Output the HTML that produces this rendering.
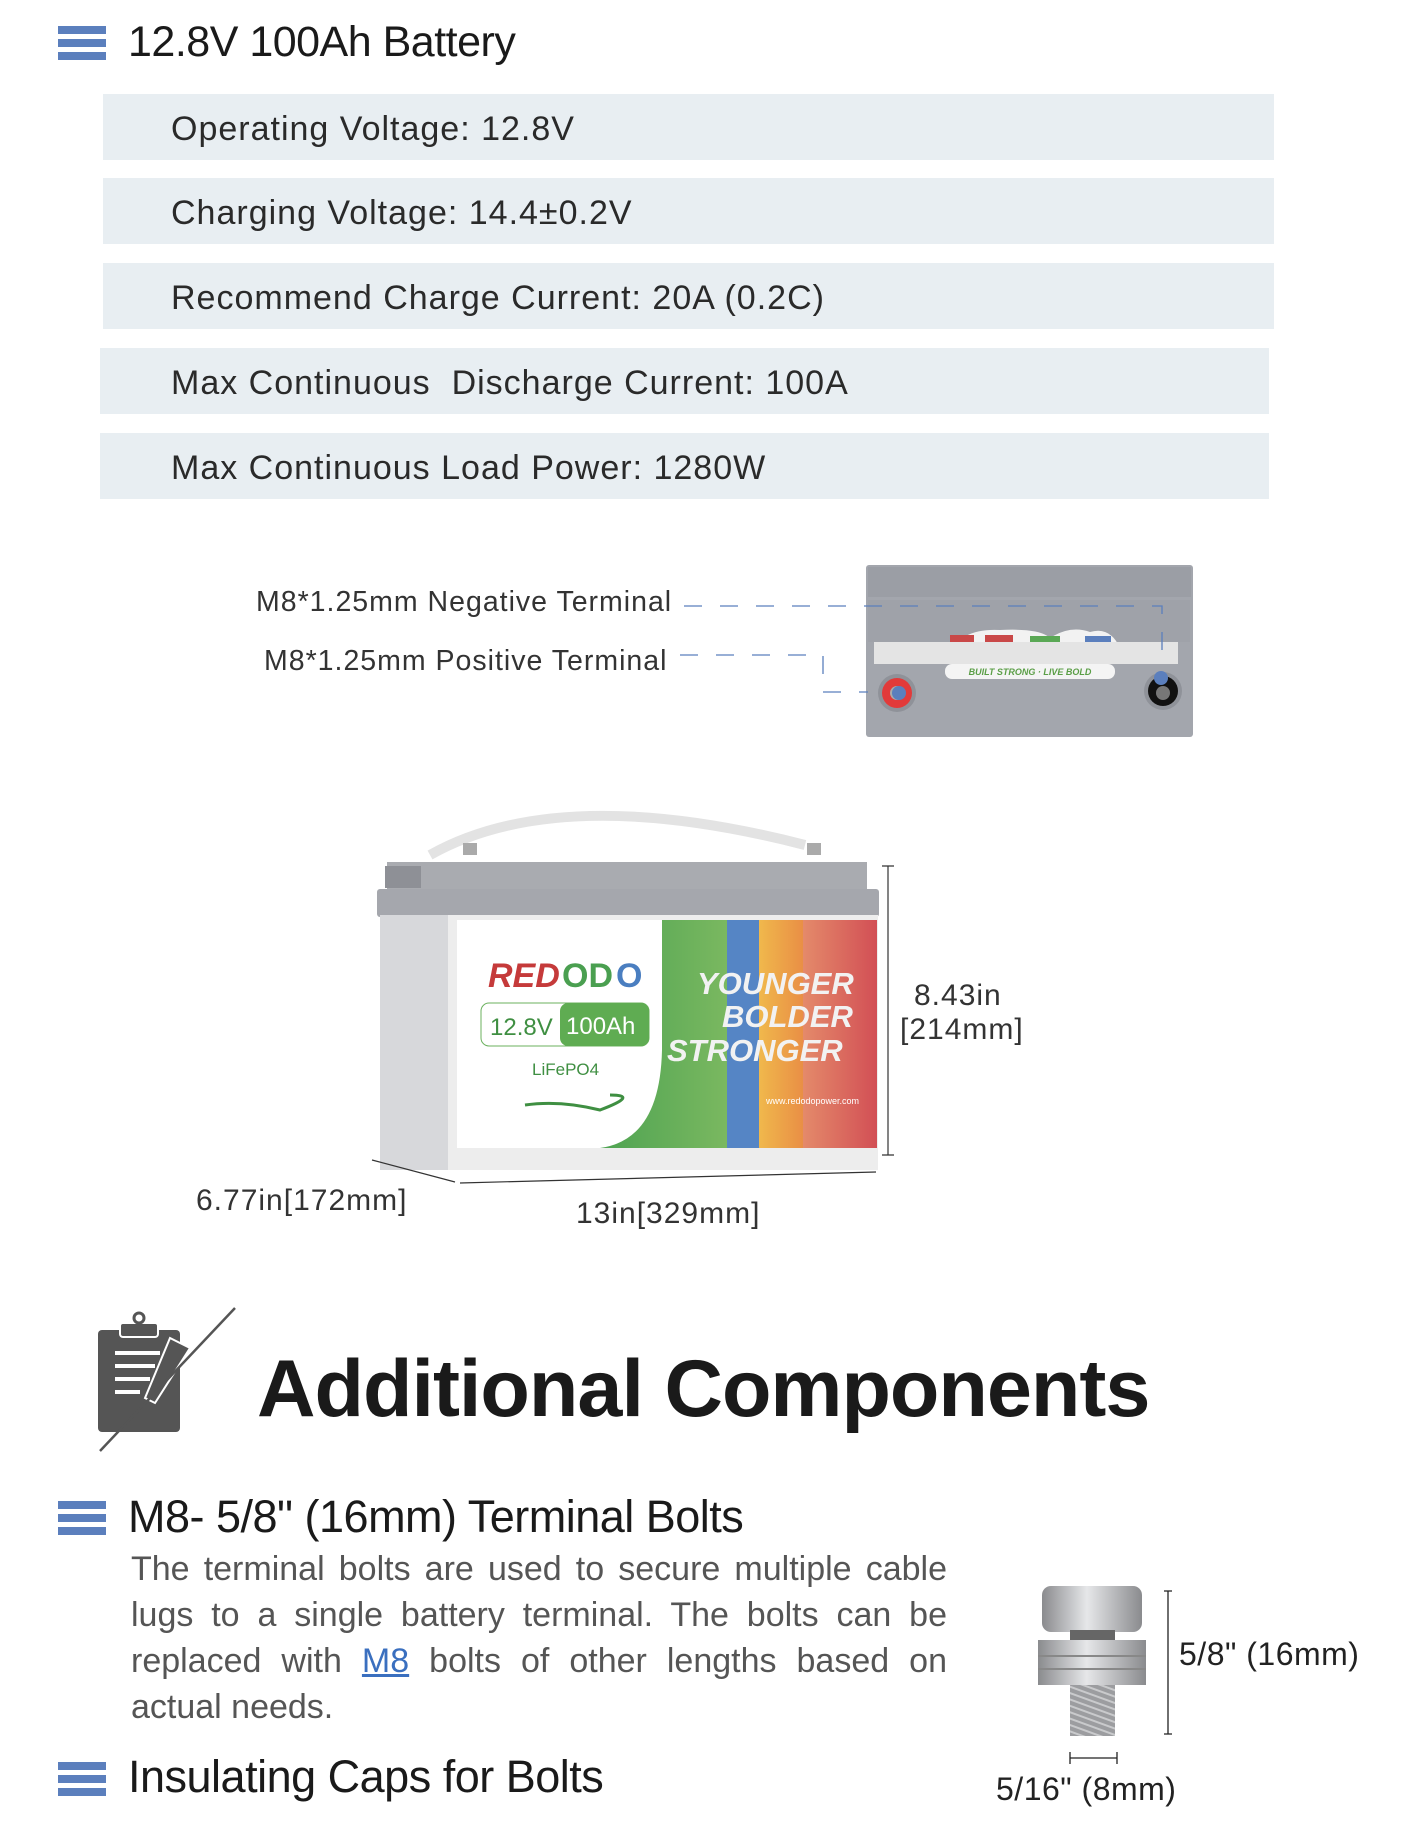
<!DOCTYPE html>
<html><head><meta charset="utf-8"><style>
body{margin:0;width:1420px;height:1838px;background:#fff;position:relative;overflow:hidden;font-family:"Liberation Sans","DejaVu Sans",sans-serif;color:#222}
.a{position:absolute}
.ic{position:absolute;width:48px}
.ic i{display:block;height:8px;background:#5b7fbd;margin-bottom:5px}
.h{position:absolute;font-size:43px;color:#1a1a1a;white-space:nowrap;letter-spacing:-0.5px}
.row{position:absolute;background:#e8eef2;height:66px}
.row span{position:absolute;left:68px;top:16px;font-size:34px;color:#2a2a2a;letter-spacing:1px;white-space:nowrap}
.lbl{position:absolute;font-size:28.5px;color:#333;letter-spacing:1px;white-space:nowrap}
.p{position:absolute;left:131px;top:1546px;width:816px;font-size:34px;line-height:46px;color:#555;text-align:justify;text-align-last:left}
</style></head><body>
<div class="ic" style="left:58px;top:26px"><i></i><i></i><i></i></div>
<div class="h" style="left:128px;top:18px">12.8V 100Ah Battery</div>
<div class="row" style="left:103px;top:94px;width:1171px"><span>Operating Voltage: 12.8V</span></div>
<div class="row" style="left:103px;top:178px;width:1171px"><span>Charging Voltage: 14.4±0.2V</span></div>
<div class="row" style="left:103px;top:263px;width:1171px"><span>Recommend Charge Current: 20A (0.2C)</span></div>
<div class="row" style="left:100px;top:348px;width:1169px"><span style="left:71px">Max Continuous&nbsp; Discharge Current: 100A</span></div>
<div class="row" style="left:100px;top:433px;width:1169px"><span style="left:71px">Max Continuous Load Power: 1280W</span></div>

<div class="lbl" style="left:256px;top:586px">M8*1.25mm Negative Terminal</div>
<div class="lbl" style="left:264px;top:645px">M8*1.25mm Positive Terminal</div>

<svg class="a" style="left:0;top:0" width="1420" height="1838">
 <defs>
  <linearGradient id="gg" x1="0" x2="1"><stop offset="0" stop-color="#4ea352"/><stop offset="1" stop-color="#7ab860"/></linearGradient>
  <linearGradient id="rg" x1="0" x2="1"><stop offset="0" stop-color="#e48a6a"/><stop offset="1" stop-color="#d24f55"/></linearGradient>
  <linearGradient id="og" x1="0" x2="1"><stop offset="0" stop-color="#f0b84c"/><stop offset="1" stop-color="#e98f45"/></linearGradient>
  <linearGradient id="bolt" x1="0" x2="1"><stop offset="0" stop-color="#8a8b8e"/><stop offset=".45" stop-color="#e6e7e9"/><stop offset="1" stop-color="#8a8b8e"/></linearGradient>
  <pattern id="thr" width="8" height="6" patternUnits="userSpaceOnUse" patternTransform="rotate(20)"><rect width="8" height="6" fill="#9c9da0"/><rect width="8" height="2" fill="#c9cacc"/></pattern>
 </defs>
 <!-- top view battery -->
 <rect x="866" y="565" width="327" height="172" rx="3" fill="#a3a6ad"/>
 <rect x="868" y="567" width="323" height="30" fill="#9b9ea5"/>
 <path d="M868 600 L1190 600 L1190 642 L868 642Z" fill="#9fa2a9"/>
 <path d="M950 650 Q965 628 1000 630 Q1040 628 1050 638 Q1070 625 1090 632 Q1110 626 1120 648Z" fill="#f2f2f2"/>
 <rect x="950" y="635" width="24" height="10" fill="#c94848"/><rect x="985" y="635" width="28" height="10" fill="#c94848"/>
 <rect x="1030" y="636" width="30" height="9" fill="#5aa855"/><rect x="1085" y="636" width="26" height="9" fill="#5b7fbd"/>
 <rect x="874" y="642" width="304" height="22" fill="#e4e4e4"/>
 <rect x="945" y="664" width="170" height="15" rx="7" fill="#f4f4f4"/>
 <text x="1030" y="675" font-size="9" fill="#5a9e46" text-anchor="middle" font-style="italic" font-weight="bold">BUILT STRONG · LIVE BOLD</text>
 <circle cx="897" cy="693" r="19" fill="#8f9299"/><circle cx="897" cy="693" r="15" fill="#e23a3a"/><circle cx="897" cy="693" r="7" fill="#aaa"/>
 <circle cx="1163" cy="691" r="19" fill="#8f9299"/><circle cx="1163" cy="691" r="15" fill="#111"/><circle cx="1163" cy="693" r="7" fill="#777"/>
 <circle cx="899" cy="693" r="7" fill="#5b7fbd"/>
 <circle cx="1161" cy="678" r="7" fill="#5b7fbd"/>
 <g stroke="#5b7fbd" stroke-width="1.3" fill="none" stroke-dasharray="18,18">
  <path d="M684 606 H1162 V651"/>
  <path d="M680 655 H823 V692 H868"/>
 </g>
 <!-- main battery -->
 <path d="M430 855 Q560 782 805 845" stroke="#e3e3e3" stroke-width="10" fill="none"/>
 <rect x="463" y="843" width="14" height="12" fill="#aaa"/><rect x="807" y="843" width="14" height="12" fill="#aaa"/>
 <rect x="387" y="862" width="480" height="28" fill="#a9abb0"/>
 <rect x="385" y="866" width="36" height="22" fill="#8e9096"/>
 <rect x="377" y="889" width="502" height="28" rx="3" fill="#a5a7ad"/>
 <rect x="380" y="915" width="498" height="255" fill="#d7d8db"/>
 <rect x="448" y="915" width="430" height="255" fill="#ededed"/>
 <rect x="457" y="920" width="420" height="228" fill="#fff"/>
 <path d="M662 920 H727 V1148 H600 Q660 1140 662 1050Z" fill="url(#gg)"/>
 <rect x="727" y="920" width="32" height="228" fill="#5585c5"/>
 <rect x="759" y="920" width="44" height="228" fill="url(#og)"/>
 <rect x="803" y="920" width="74" height="228" fill="url(#rg)"/>
 <text x="488" y="987" font-size="34" font-weight="bold" fill="#c53a3a" font-style="italic">RED</text>
 <text x="562" y="987" font-size="34" font-weight="bold" fill="#4a9f50">OD</text><text x="616" y="987" font-size="34" font-weight="bold" fill="#4a7ec0">O</text>
 <rect x="481" y="1003" width="168" height="43" rx="8" fill="#fff" stroke="#6bb15e"/>
 <rect x="560" y="1003" width="89" height="43" rx="8" fill="#5fac52"/>
 <text x="490" y="1035" font-size="24" fill="#3f8f42">12.8V</text>
 <text x="566" y="1034" font-size="24" fill="#fff">100Ah</text>
 <text x="532" y="1075" font-size="17" fill="#3f8f42">LiFePO4</text>
 <path d="M525 1105 Q560 1100 600 1110 Q640 1095 610 1095" stroke="#3f8f42" stroke-width="3" fill="none"/>
 <g font-size="31" font-weight="bold" fill="#f2f2f2" font-style="italic">
  <text x="697" y="994">YOUNGER</text><text x="722" y="1027">BOLDER</text><text x="667" y="1061">STRONGER</text></g>
 <text x="766" y="1104" font-size="9" fill="#fff">www.redodopower.com</text>
 <g stroke="#333" stroke-width="1.2" fill="none">
  <path d="M888 866 V1155 M882 866 H894 M882 1155 H894"/>
  <path d="M372 1160 L455 1182"/>
  <path d="M460 1183 L876 1172"/>
 </g>
 <!-- bolt -->
 <rect x="1042" y="1586" width="100" height="46" rx="9" fill="url(#bolt)"/>
 <rect x="1070" y="1630" width="45" height="10" fill="#666"/>
 <rect x="1038" y="1640" width="108" height="45" fill="url(#bolt)"/>
 <rect x="1038" y="1655" width="108" height="2" fill="#888"/><rect x="1038" y="1668" width="108" height="2" fill="#888"/>
 <rect x="1070" y="1685" width="45" height="51" fill="url(#thr)"/>
 <g stroke="#222" stroke-width="1.3"><path d="M1168 1591 V1734 M1164 1591 H1172 M1164 1734 H1172"/><path d="M1070 1758 H1117 M1070 1752 V1764 M1117 1752 V1764"/></g>
 <!-- clipboard -->
 <g transform="translate(0,8)">
 <rect x="98" y="1322" width="82" height="102" rx="4" fill="#555"/>
 <rect x="120" y="1315" width="38" height="14" rx="3" fill="#555" stroke="#fff" stroke-width="2"/>
 <circle cx="139" cy="1310" r="5" fill="none" stroke="#555" stroke-width="3"/>
 <g stroke="#fff" stroke-width="4"><path d="M115 1345 H160 M115 1358 H155 M115 1371 H150 M115 1384 H140"/></g>
 <path d="M170 1330 L190 1340 L155 1395 L145 1390Z" fill="#555" stroke="#fff" stroke-width="2"/>
 <path d="M235 1300 L100 1443" stroke="#555" stroke-width="2.5"/>
 </g>
</svg>
<div class="lbl" style="left:914px;top:979px;font-size:30px">8.43in</div>
<div class="lbl" style="left:900px;top:1013px;font-size:30px">[214mm]</div>
<div class="lbl" style="left:196px;top:1184px;font-size:30px">6.77in[172mm]</div>
<div class="lbl" style="left:576px;top:1197px;font-size:30px">13in[329mm]</div>

<div class="a" style="left:257px;top:1343px;font-size:81px;font-weight:bold;color:#1a1a1a;letter-spacing:-1px;white-space:nowrap">Additional Components</div>

<div class="ic" style="left:58px;top:1501px"><i></i><i></i><i></i></div>
<div class="h" style="left:128px;top:1491px;font-size:45px">M8- 5/8" (16mm) Terminal Bolts</div>
<div class="p">The terminal bolts are used to secure multiple cable lugs to a single battery terminal. The bolts can be replaced with <span style="color:#3a6fbf;text-decoration:underline">M8</span> bolts of other lengths based on actual needs.</div>
<div class="lbl" style="left:1179px;top:1636px;font-size:32px;color:#222;letter-spacing:0.5px">5/8" (16mm)</div>
<div class="lbl" style="left:996px;top:1771px;font-size:32px;color:#222;letter-spacing:0.5px">5/16" (8mm)</div>
<div class="ic" style="left:58px;top:1762px"><i></i><i></i><i></i></div>
<div class="h" style="left:128px;top:1751px;font-size:45px">Insulating Caps for Bolts</div>
</body></html>
